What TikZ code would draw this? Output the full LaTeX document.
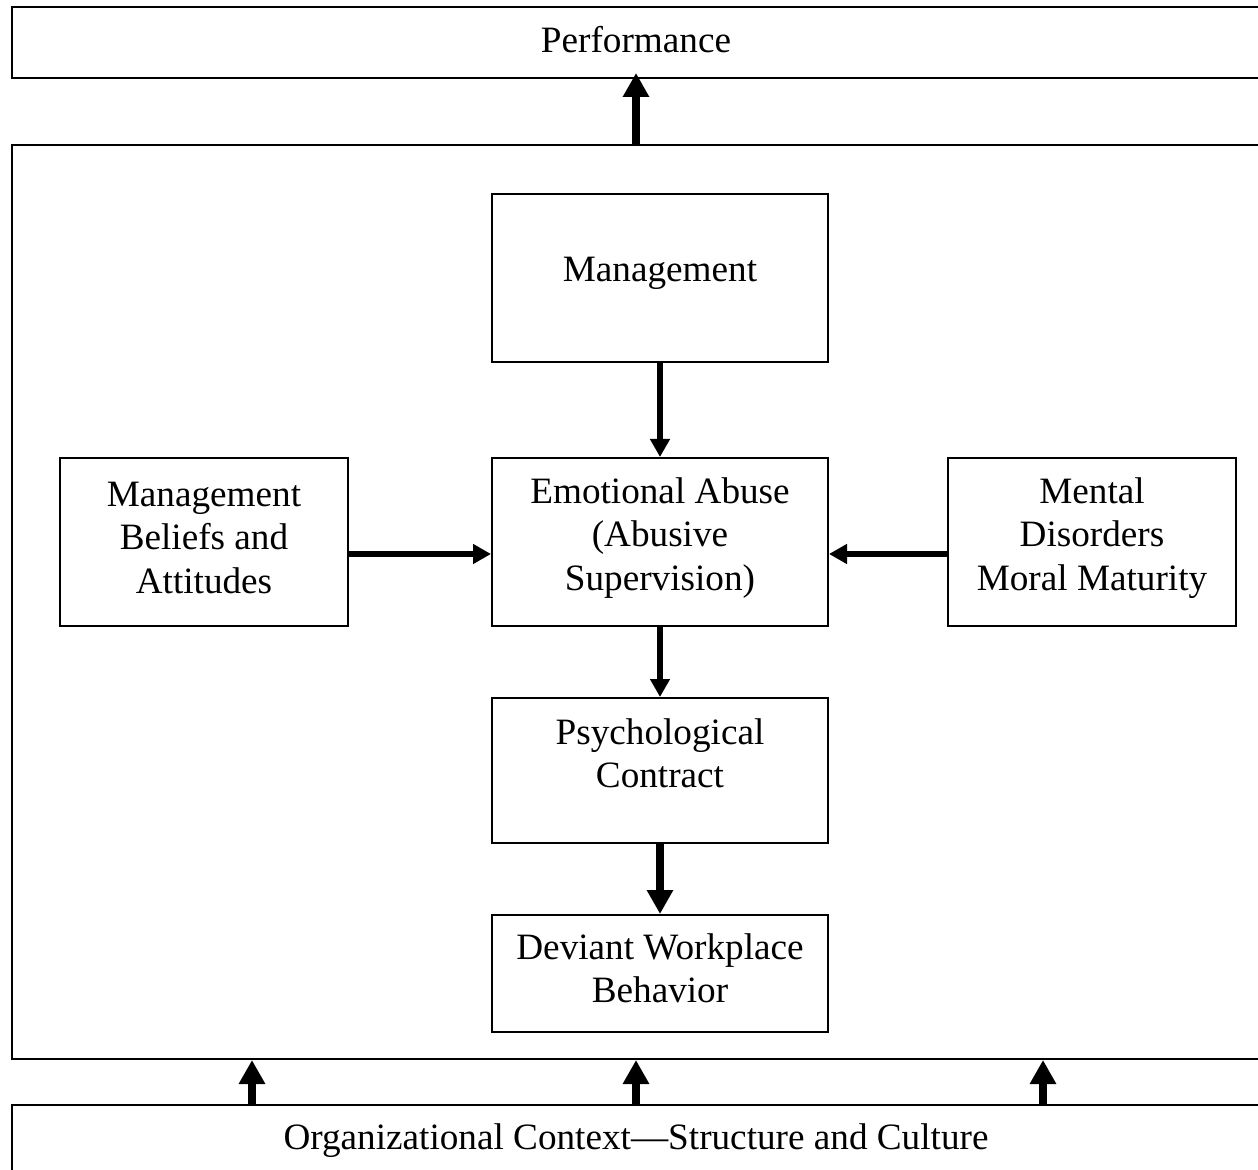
\documentclass[tikz,border=0pt]{standalone}
\usepackage{fontspec}
\setmainfont{Liberation Serif}
\usetikzlibrary{arrows.meta}

\begin{document}
\begin{tikzpicture}[x=0.5pt,y=-0.5pt,
  box/.style={draw, line width=1pt, rectangle, inner sep=0pt},
  lbl/.style={align=center, font=\fontsize{18.6}{21.6}\selectfont, inner sep=0pt},
  bigarrow/.style={line width=3.8pt, -{Triangle[length=12pt,width=12.5pt]}},
  smallarrow/.style={line width=2.9pt, -{Triangle[length=9pt,width=9.5pt]}},
]
\useasboundingbox (0,0) rectangle (1258,1170);
\clip (0,0) rectangle (1258,1170);

% outer frames (they run past the right edge)
\node[box, minimum width=624pt, minimum height=35.5pt] (perf) at (636,42.5) {};
\node[box, minimum width=624pt, minimum height=457pt] (frame) at (636,602) {};
\node[box, minimum width=624pt, minimum height=40pt] (org) at (636,1145) {};

% inner boxes
\node[box, minimum width=168pt, minimum height=84pt] (mgmt) at (660,278) {};
\node[box, minimum width=168pt, minimum height=84pt] (emo) at (660,542) {};
\node[box, minimum width=144pt, minimum height=84pt] (beliefs) at (204,542) {};
\node[box, minimum width=144pt, minimum height=84pt] (mental) at (1092,542) {};
\node[box, minimum width=168pt, minimum height=72.5pt] (psych) at (660,770.5) {};
\node[box, minimum width=168pt, minimum height=58.5pt] (deviant) at (660,973.5) {};

% texts
\node[lbl] (t-perf) at (636,40) {Performance};
\node[lbl] (t-mgmt) at (660,273) {Management};
\node[lbl] (t-emo) at (660,538) {Emotional Abuse\\(Abusive\\Supervision)};
\node[lbl] (t-beliefs) at (204,538) {Management\\Beliefs and\\Attitudes};
\node[lbl] (t-mental) at (1092,538) {Mental\\Disorders\\Moral Maturity};
\node[lbl] (t-psych) at (660,753) {Psychological\\Contract};
\node[lbl] (t-deviant) at (660,968) {Deviant Workplace\\Behavior};
\node[lbl] (t-org) at (636,1141) {Organizational Context---Structure and Culture};

% guide positions for the connectors
\coordinate (row) at (0,554);
\coordinate (colA) at (252,0);
\coordinate (colC) at (1043,0);

% connectors
\draw[bigarrow] (frame.north) -- ([yshift=3pt]perf.south);
\draw[smallarrow] (mgmt.south) -- (emo.north);
\draw[smallarrow] (beliefs.east |- row) -- (emo.west |- row);
\draw[smallarrow] (mental.west |- row) -- (emo.east |- row);
\draw[smallarrow] (emo.south) -- (psych.north);
\draw[bigarrow] (psych.south) -- (deviant.north);
\draw[bigarrow] (org.north -| colA) -- (frame.south -| colA);
\draw[bigarrow] (org.north) -- (frame.south);
\draw[bigarrow] (org.north -| colC) -- (frame.south -| colC);
\end{tikzpicture}
\end{document}
